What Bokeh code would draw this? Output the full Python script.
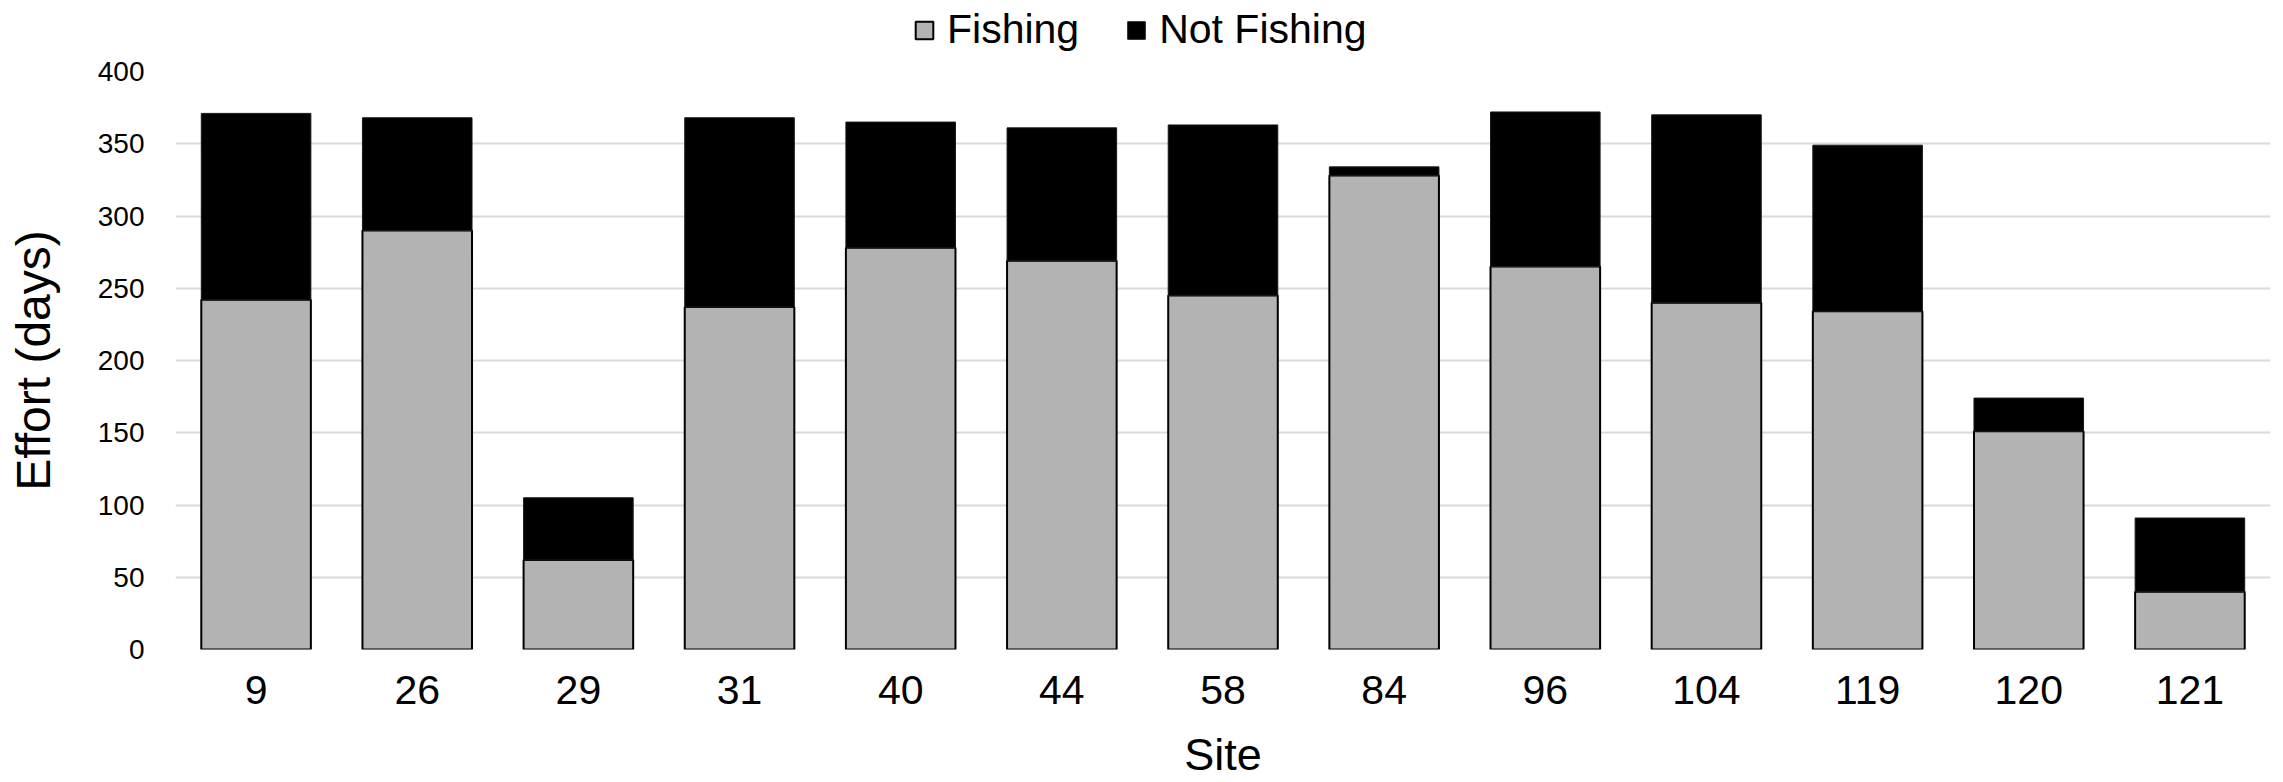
from bokeh.plotting import figure
from bokeh.models import ColumnDataSource, FactorRange, Range1d, Legend, LegendItem, SingleIntervalTicker
from bokeh.layouts import column
from bokeh.embed import file_html
from bokeh.resources import INLINE

sites = ["9", "26", "29", "31", "40", "44", "58", "84", "96", "104", "119", "120", "121"]
fishing = [242, 290, 62, 237, 278, 269, 245, 328, 265, 240, 234, 151, 40]
total = [371, 368, 105, 368, 365, 361, 363, 334, 372, 370, 349, 174, 91]
not_fishing = [t - f for t, f in zip(total, fishing)]
series = ["Fishing", "Not Fishing"]
colors = ["#B3B3B3", "#000000"]
outlines = ["#000000", "#1a1a1a"]

FONT = "Liberation Sans"
W = 2275

source = ColumnDataSource(data=dict(site=sites, fishing=fishing, not_fishing=not_fishing))

# ---- legend strip (separate small figure; its renderers are hidden, only the legend shows) ----
lf = figure(width=W, height=56, output_backend="svg", toolbar_location=None,
            x_range=FactorRange(*sites, range_padding=0), y_range=Range1d(-1000, -999),
            x_axis_location=None, y_axis_location=None,
            min_border_left=0, min_border_right=0, min_border_top=0, min_border_bottom=0)
lf.grid.visible = False
lf.outline_line_color = None
lr = lf.vbar_stack(
    ["fishing", "not_fishing"], x="site", width=0.68, source=source,
    color=colors, line_color=outlines, line_width=[2, 1],
)
for rr in lr:
    rr.visible = False
legend = Legend(
    items=[LegendItem(label=s, renderers=[d]) for s, d in zip(series, lr)],
    orientation="horizontal",
    location=(738, 3),
    click_policy="none",
    label_text_font=FONT, label_text_font_size="41px", label_text_color="#000000",
    glyph_width=22, glyph_height=22, label_standoff=12, spacing=46,
    padding=0, margin=0, border_line_alpha=0, background_fill_alpha=0,
)
lf.add_layout(legend, "center")

# ---- main chart ----
p = figure(
    x_range=FactorRange(*sites, range_padding=0),
    y_range=Range1d(0, 400),
    width=W, height=726,
    output_backend="svg", toolbar_location=None,
    min_border_left=175, min_border_right=5, min_border_top=15, min_border_bottom=133,
)

p.vbar_stack(
    ["fishing", "not_fishing"], x="site", width=0.68, source=source,
    color=colors, line_color=outlines, line_width=[2, 1],
)

p.outline_line_color = None
p.xgrid.grid_line_color = None
p.ygrid.grid_line_color = "#D9D9D9"
p.ygrid.grid_line_width = 2

p.yaxis.ticker = SingleIntervalTicker(interval=50)
p.yaxis.axis_line_color = None
p.yaxis.major_tick_line_color = None
p.yaxis.minor_tick_line_color = None
p.yaxis.major_tick_out = 0
p.yaxis.major_tick_in = 0
p.yaxis.major_label_standoff = 27
p.yaxis.major_label_text_font = FONT
p.yaxis.major_label_text_font_size = "28px"
p.yaxis.major_label_text_color = "#000000"
p.yaxis.axis_label = "Effort (days)"
p.yaxis.axis_label_text_font = FONT
p.yaxis.axis_label_text_font_size = "48px"
p.yaxis.axis_label_text_font_style = "normal"
p.yaxis.axis_label_text_color = "#000000"
p.yaxis.axis_label_standoff = 35

p.xaxis.axis_line_color = None
p.xaxis.major_tick_line_color = None
p.xaxis.minor_tick_line_color = None
p.xaxis.major_tick_out = 0
p.xaxis.major_tick_in = 0
p.xaxis.major_label_standoff = 26
p.xaxis.major_label_text_font = FONT
p.xaxis.major_label_text_font_size = "41px"
p.xaxis.major_label_text_color = "#000000"
p.xaxis.axis_label = "Site"
p.xaxis.axis_label_text_font = FONT
p.xaxis.axis_label_text_font_size = "45px"
p.xaxis.axis_label_text_font_style = "normal"
p.xaxis.axis_label_text_color = "#000000"
p.xaxis.axis_label_standoff = 22

layout = column(lf, p, spacing=0)
open("out.html", "w").write(file_html(layout, INLINE))
